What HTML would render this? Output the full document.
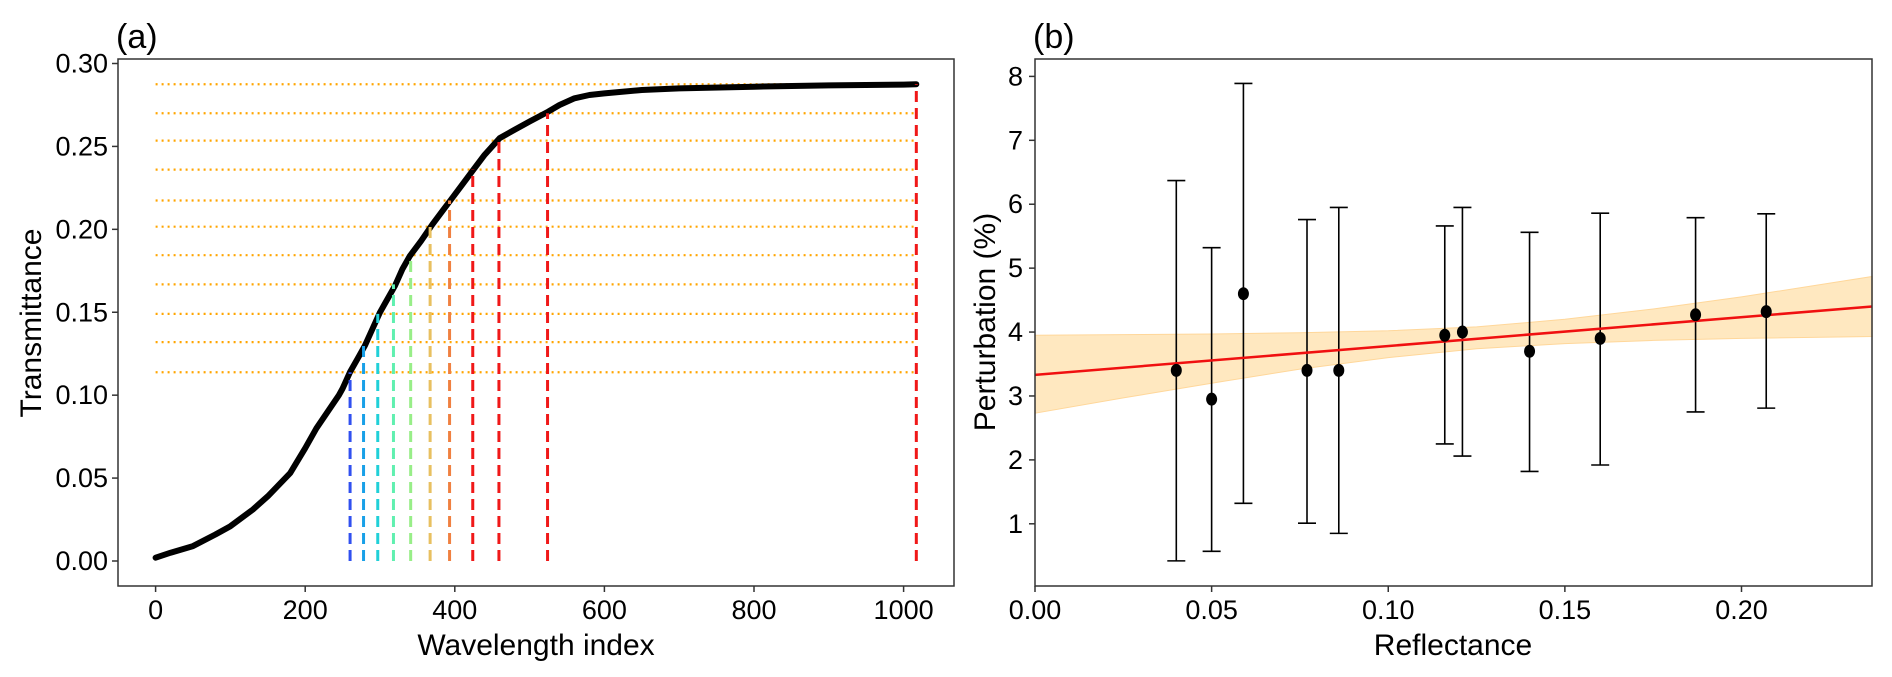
<!DOCTYPE html>
<html><head><meta charset="utf-8"><style>
html,body{margin:0;padding:0;background:#fff;}
svg{display:block;font-family:"Liberation Sans",Arial,sans-serif;}
</style></head><body>
<svg id="fig" width="1892" height="677" viewBox="0 0 1892 677" xmlns="http://www.w3.org/2000/svg">
<g id="pa"></g>
<g id="pb"></g>
</svg>
<script>
// ---- Panel (a) data ----
const curveX=[0,20,50,80,100,130,150,180,200,215,230,245,250,260,270,280,290,300,310,320,330,340,355,370,385,395,410,425,440,460,480,500,525,540,560,580,600,650,700,800,900,1000,1017];
const curveY=[0.002,0.005,0.009,0.016,0.021,0.031,0.039,0.053,0.068,0.08,0.09,0.1,0.104,0.114,0.122,0.13,0.14,0.15,0.158,0.166,0.176,0.184,0.193,0.203,0.212,0.218,0.227,0.236,0.245,0.255,0.26,0.265,0.271,0.275,0.279,0.281,0.282,0.284,0.285,0.286,0.2868,0.2873,0.2875];
const levels=[0.1138,0.132,0.149,0.1668,0.1844,0.2016,0.2174,0.236,0.2535,0.270,0.2875];
const cutX=[260,278,297,318,341,367,393,424,459,524,1017];
const cutColors=["#3050f0","#18a0e8","#20d0d8","#60f0b0","#98ee88","#e8c060","#f08040","#f01818","#f01818","#f01818","#f01818"];
const xTicksA=[0,200,400,600,800,1000];
const yTicksA=[0.00,0.05,0.10,0.15,0.20,0.25,0.30];
// ---- Panel (b) data ----
const refl=[0.040,0.050,0.059,0.077,0.086,0.116,0.121,0.140,0.160,0.187,0.207];
const pert=[3.4,2.95,4.6,3.4,3.4,3.95,4.0,3.7,3.9,4.27,4.32];
const errLo=[0.42,0.57,1.32,1.01,0.85,2.25,2.06,1.82,1.92,2.75,2.81];
const errHi=[6.37,5.32,7.89,5.76,5.95,5.66,5.95,5.56,5.86,5.79,5.85];
const fitX=[0,0.237];
const fitY=[3.33,4.40];
const bandX=[0,0.025,0.05,0.075,0.1,0.125,0.15,0.175,0.2,0.237];
const bandLo=[2.73,2.97,3.2,3.42,3.6,3.74,3.82,3.87,3.9,3.93];
const bandHi=[3.95,3.96,3.97,3.99,4.02,4.08,4.2,4.36,4.55,4.87];
const xTicksB=[0.00,0.05,0.10,0.15,0.20];
const yTicksB=[1,2,3,4,5,6,7,8];

const NS="http://www.w3.org/2000/svg";
function mk(parent,tag,attrs,text){const e=document.createElementNS(NS,tag);for(const k in attrs)e.setAttribute(k,attrs[k]);if(text!==undefined)e.textContent=text;parent.appendChild(e);return e;}

// Panel A
const pa=document.getElementById('pa');
const A={l:118,r:954,t:59,b:586};
const ax=v=>155.6+v*0.748;
const ay=v=>561-v*(561-63.5)/0.30;
let e;
for(let i=0;i<levels.length;i++){
 e=mk(pa,'line',{x1:ax(0),x2:ax(1017),y1:ay(levels[i]),y2:ay(levels[i]),stroke:'#ffa500','stroke-width':2.2,'stroke-dasharray':'2 4'});
 
 
}
let d='';
curveX.forEach((x,i)=>{d+=(i?'L':'M')+ax(x).toFixed(1)+','+ay(curveY[i]).toFixed(1);});
e=mk(pa,'path',{d:d,fill:'none',stroke:'#000','stroke-width':6,'stroke-linejoin':'round','stroke-linecap':'round'});


for(let i=0;i<cutX.length;i++){
 e=mk(pa,'line',{x1:ax(cutX[i]),x2:ax(cutX[i]),y1:ay(0),y2:ay(levels[i]),stroke:cutColors[i],'stroke-width':3,'stroke-dasharray':'11 6'});
 
 
}
e=mk(pa,'rect',{x:A.l,y:A.t,width:A.r-A.l,height:A.b-A.t,fill:'none',stroke:'#333','stroke-width':1.5});


xTicksA.forEach(v=>{
 mk(pa,'line',{x1:ax(v),x2:ax(v),y1:A.b,y2:A.b+6,stroke:'#333','stroke-width':1.5});
 e=mk(pa,'text',{x:ax(v),y:619,'text-anchor':'middle','font-size':27},String(v));
 
 
});
yTicksA.forEach(v=>{
 mk(pa,'line',{x1:A.l-6,x2:A.l,y1:ay(v),y2:ay(v),stroke:'#333','stroke-width':1.5});
 e=mk(pa,'text',{x:A.l-10,y:ay(v)+9,'text-anchor':'end','font-size':27},v.toFixed(2));
 
 
});
e=mk(pa,'text',{x:536,y:655,'text-anchor':'middle','font-size':30},'Wavelength index');


e=mk(pa,'text',{x:0,y:0,'text-anchor':'middle','font-size':30,transform:'translate(41,323) rotate(-90)'},'Transmittance');


e=mk(pa,'text',{x:116,y:48,'font-size':34},'(a)');



// Panel B
const pb=document.getElementById('pb');
const B={l:1035,r:1872,t:59,b:586};
const bx=v=>1035+v*(1741.5-1035)/0.20;
const by=v=>523.8-(v-1)*(523.8-76.4)/7;
let bd='';
bandX.forEach((x,i)=>{bd+=(i?'L':'M')+bx(x).toFixed(1)+','+by(bandHi[i]).toFixed(1);});
for(let i=bandX.length-1;i>=0;i--)bd+='L'+bx(bandX[i]).toFixed(1)+','+by(bandLo[i]).toFixed(1);
e=mk(pb,'path',{d:bd+'Z',fill:'#ffe4b5','fill-opacity':0.85,stroke:'#ffd79a','stroke-width':1});


for(let i=0;i<refl.length;i++){
 const x=bx(refl[i]);
 mk(pb,'line',{x1:x,x2:x,y1:by(errLo[i]),y2:by(errHi[i]),stroke:'#000','stroke-width':1.6});
 mk(pb,'line',{x1:x-9,x2:x+9,y1:by(errLo[i]),y2:by(errLo[i]),stroke:'#000','stroke-width':1.6});
 mk(pb,'line',{x1:x-9,x2:x+9,y1:by(errHi[i]),y2:by(errHi[i]),stroke:'#000','stroke-width':1.6});
}
e=mk(pb,'line',{x1:bx(fitX[0]),x2:bx(fitX[1]),y1:by(fitY[0]),y2:by(fitY[1]),stroke:'#f01010','stroke-width':2.5});


for(let i=0;i<refl.length;i++){
 e=mk(pb,'ellipse',{cx:bx(refl[i]),cy:by(pert[i]),rx:5.5,ry:6.5,fill:'#000'});
 
 
}
e=mk(pb,'rect',{x:B.l,y:B.t,width:B.r-B.l,height:B.b-B.t,fill:'none',stroke:'#333','stroke-width':1.5});


xTicksB.forEach(v=>{
 mk(pb,'line',{x1:bx(v),x2:bx(v),y1:B.b,y2:B.b+6,stroke:'#333','stroke-width':1.5});
 e=mk(pb,'text',{x:bx(v),y:619,'text-anchor':'middle','font-size':27},v.toFixed(2));
 
 
});
yTicksB.forEach(v=>{
 mk(pb,'line',{x1:B.l-6,x2:B.l,y1:by(v),y2:by(v),stroke:'#333','stroke-width':1.5});
 e=mk(pb,'text',{x:B.l-12,y:by(v)+9,'text-anchor':'end','font-size':27},String(v));
 
 
});
e=mk(pb,'text',{x:1453,y:655,'text-anchor':'middle','font-size':30},'Reflectance');


e=mk(pb,'text',{x:0,y:0,'text-anchor':'middle','font-size':30,transform:'translate(995,322) rotate(-90)'},'Perturbation (%)');


e=mk(pb,'text',{x:1033,y:48,'font-size':34},'(b)');


</script>
</body></html>
